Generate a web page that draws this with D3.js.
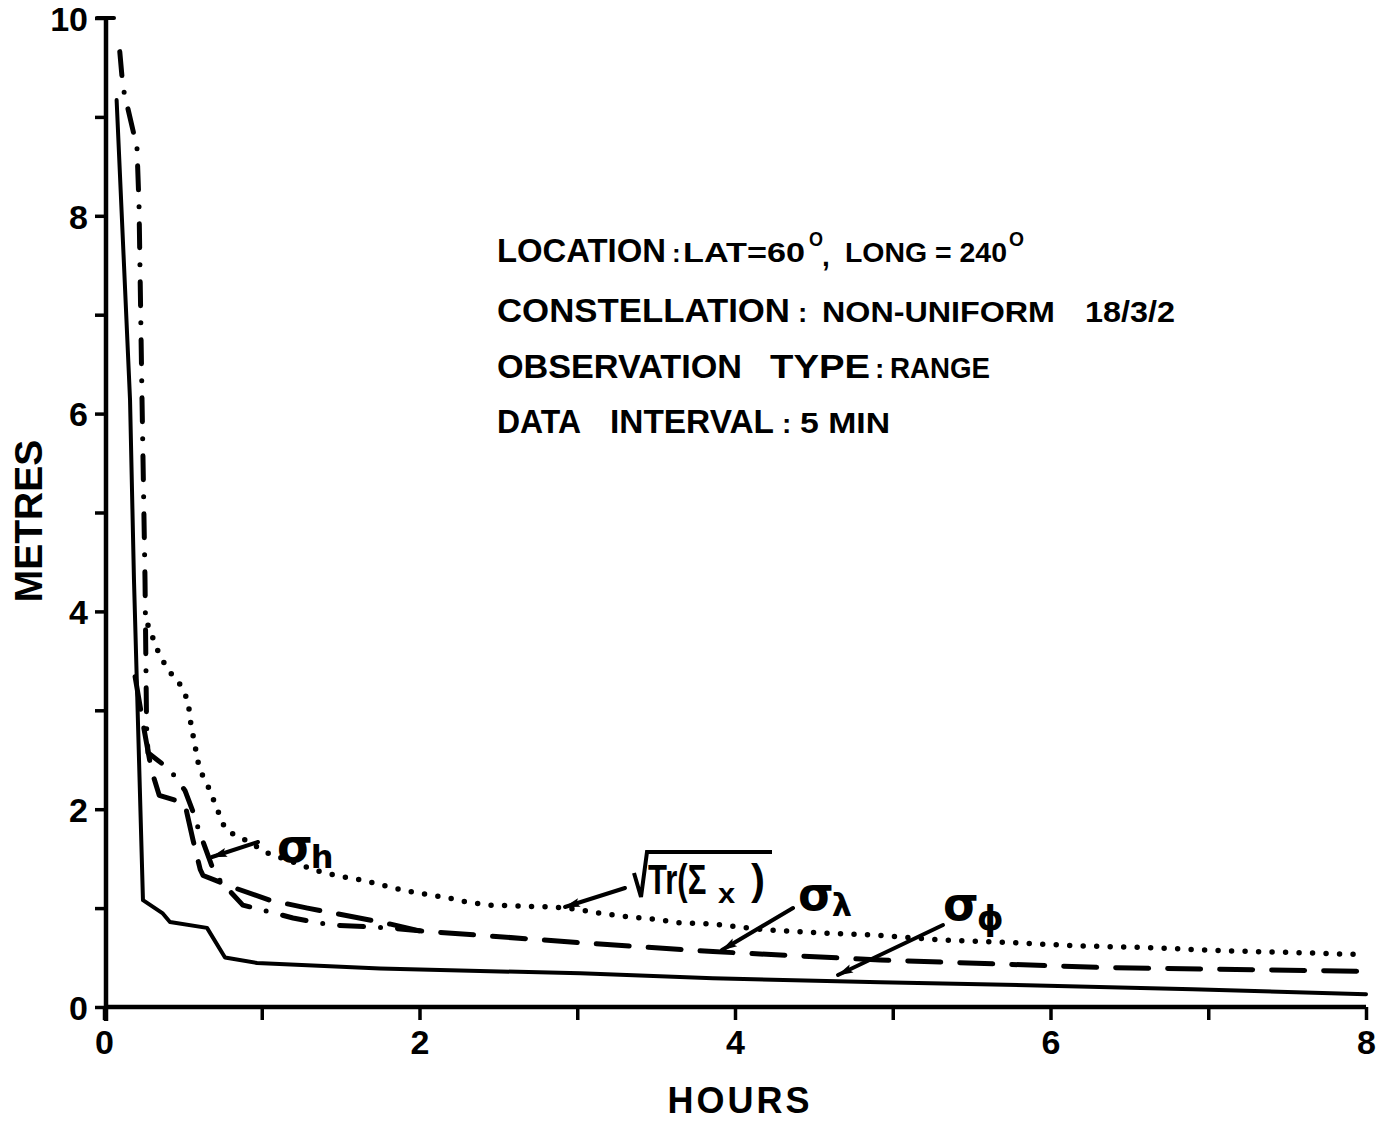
<!DOCTYPE html>
<html>
<head>
<meta charset="utf-8">
<script src="https://cdn.jsdelivr.net/npm/d3@7"></script>
<style>
  html, body { margin: 0; padding: 0; background: #fff; }
  svg { display: block; }
  text { fill: #000; }
</style>
</head>
<body>
<svg id="chart" width="1378" height="1122"></svg>
<script>
// Position error growth over an 8-hour observation span (metres vs hours)

// sigma-phi (solid)
const phiHours  = [0.08, 0.165, 0.19, 0.247, 0.37, 0.418, 0.653, 0.767, 0.97, 1.75, 3.02, 3.86, 4.92, 5.85, 6.9, 8.0];
const phiMetres = [9.17, 6.14, 4.32, 1.08, 0.95, 0.86, 0.80, 0.50, 0.445, 0.39, 0.34, 0.29, 0.25, 0.22, 0.18, 0.13];

// sigma-h (dash-dot)
const hHours  = [0.10, 0.12, 0.209, 0.222, 0.241, 0.26, 0.27, 0.279, 0.418, 0.48, 0.513, 0.577, 0.596, 0.685, 0.71, 0.735, 0.88, 0.957, 1.198, 1.43, 1.81, 2.0];
const hMetres = [9.66, 9.30, 8.69, 8.11, 6.14, 4.32, 2.83, 2.57, 2.40, 2.26, 2.19, 1.92, 1.81, 1.42, 1.37, 1.28, 1.03, 1.00, 0.90, 0.83, 0.80, 0.77];

// sigma-lambda (long dashes)
const lamHours  = [0.197, 0.247, 0.30, 0.35, 0.513, 0.526, 0.564, 0.61, 0.628, 0.818, 1.05, 1.29, 1.81, 2.0, 3.02, 3.86, 4.92, 6.31, 8.0];
const lamMetres = [3.34, 2.87, 2.40, 2.14, 2.06, 1.96, 1.69, 1.39, 1.33, 1.21, 1.08, 1.00, 0.84, 0.77, 0.65, 0.56, 0.475, 0.40, 0.36];

// sqrt(Tr(Sigma_x)) (dotted)
const trHours  = [0.279, 0.336, 0.40, 0.475, 0.532, 0.55, 0.577, 0.602, 0.628, 0.666, 0.723, 0.748, 0.78, 0.843, 0.906, 1.033, 1.223, 1.357, 1.5, 1.65, 1.77, 1.90, 2.0, 2.19, 2.30, 2.45, 2.64, 2.86, 2.99, 3.14, 3.33, 3.48, 3.65, 3.86, 4.03, 4.19, 4.41, 4.67, 4.86, 5.28, 5.76, 6.14, 6.63, 7.07, 7.56, 7.98];
const trMetres = [3.86, 3.62, 3.42, 3.28, 3.10, 2.87, 2.64, 2.43, 2.33, 2.21, 1.98, 1.87, 1.78, 1.73, 1.68, 1.56, 1.45, 1.375, 1.32, 1.28, 1.23, 1.18, 1.15, 1.10, 1.06, 1.03, 1.02, 1.01, 0.99, 0.95, 0.91, 0.89, 0.85, 0.84, 0.81, 0.78, 0.76, 0.74, 0.73, 0.68, 0.65, 0.62, 0.60, 0.57, 0.55, 0.53];

const xTicks = [0, 1, 2, 3, 4, 5, 6, 7, 8];
const xTickLabels = ["0", "", "2", "", "4", "", "6", "", "8"];
const yTicks = [0, 1, 2, 3, 4, 5, 6, 7, 8, 9, 10];
const yTickLabels = ["0", "", "2", "", "4", "", "6", "", "8", "", "10"];

const svg = d3.select("#chart");
const x = d3.scaleLinear().domain([0, 8]).range([104, 1366]);
const y = d3.scaleLinear().domain([0, 10]).range([1007, 18]);

const FONT = "'Liberation Sans', Arial, sans-serif";

// ---- axes ----
const yAxis = d3.axisLeft(y)
  .tickValues(yTicks)
  .tickSize(11)
  .tickSizeOuter(0)
  .tickPadding(7)
  .tickFormat((d, i) => yTickLabels[i]);
const gy = svg.append("g").attr("transform", `translate(${x(0) + 2},0)`).call(yAxis);
gy.select(".domain").remove();
gy.selectAll(".tick line").attr("stroke", "#000").attr("stroke-width", 3.5);
gy.selectAll(".tick text")
  .attr("font-family", FONT).attr("font-weight", "bold").attr("font-size", 34)
  .attr("fill", "#000").attr("dy", "0.36em");

const xAxis = d3.axisBottom(x)
  .tickValues(xTicks)
  .tickSize(13)
  .tickSizeOuter(0)
  .tickPadding(10)
  .tickFormat((d, i) => xTickLabels[i]);
const gx = svg.append("g").attr("transform", `translate(0,${y(0)})`).call(xAxis);
gx.select(".domain").remove();
gx.selectAll(".tick line").attr("stroke", "#000").attr("stroke-width", 3.5);
gx.selectAll(".tick text")
  .attr("font-family", FONT).attr("font-weight", "bold").attr("font-size", 34)
  .attr("fill", "#000");

// axis lines
svg.append("line")
  .attr("x1", x(0) + 2).attr("x2", x(0) + 2)
  .attr("y1", y(10)).attr("y2", y(0) + 14)
  .attr("stroke", "#000").attr("stroke-width", 4.5);
svg.append("line")
  .attr("x1", x(0) + 2 - 9).attr("x2", x(0) + 2 + 8)
  .attr("y1", y(10)).attr("y2", y(10))
  .attr("stroke", "#000").attr("stroke-width", 4).attr("stroke-linecap", "round");
svg.append("line")
  .attr("x1", x(0)).attr("x2", x(8))
  .attr("y1", y(0)).attr("y2", y(0))
  .attr("stroke", "#000").attr("stroke-width", 4.5);

// axis titles
svg.append("text")
  .attr("x", 740).attr("y", 1113)
  .attr("text-anchor", "middle")
  .attr("font-family", FONT).attr("font-weight", "bold").attr("font-size", 36)
  .attr("letter-spacing", 3)
  .text("HOURS");
svg.append("text")
  .attr("transform", "translate(42,521) rotate(-90)")
  .attr("text-anchor", "middle")
  .attr("font-family", FONT).attr("font-weight", "bold").attr("font-size", 39)
  .text("METRES");

// ---- series ----
const line = d3.line().x(d => x(d[0])).y(d => y(d[1])).curve(d3.curveLinear);
const zipPts = (xs, ys) => xs.map((v, i) => [v, ys[i]]);

const series = [
  { pts: zipPts(phiHours, phiMetres), dash: null, width: 4, cap: "round" },
  { pts: zipPts(hHours, hMetres), dash: "24,17,0,17", width: 5, cap: "round" },
  { pts: zipPts(lamHours, lamMetres), dash: "33,19", width: 5, cap: "round" },
  { pts: zipPts(trHours, trMetres), dash: "0,13.5", width: 5.5, cap: "round" }
];

svg.append("g").selectAll("path")
  .data(series)
  .join("path")
  .attr("d", d => line(d.pts))
  .attr("fill", "none")
  .attr("stroke", "#000")
  .attr("stroke-width", d => d.width)
  .attr("stroke-linecap", d => d.cap)
  .attr("stroke-linejoin", "round")
  .attr("stroke-dasharray", d => d.dash);

// ---- arrows to curve labels ----
svg.append("defs").append("marker")
  .attr("id", "head")
  .attr("viewBox", "0 -5 16 10")
  .attr("refX", 15).attr("refY", 0)
  .attr("markerUnits", "userSpaceOnUse")
  .attr("markerWidth", 17).attr("markerHeight", 10)
  .attr("orient", "auto")
  .append("path")
  .attr("d", "M0,-4.5L16,0L0,4.5L3,0Z")
  .attr("fill", "#000");

const arrows = [
  [258, 842, 212, 857],
  [625, 888, 565, 907],
  [793, 908, 722, 950],
  [943, 925, 838, 975]
];
svg.append("g").selectAll("line")
  .data(arrows)
  .join("line")
  .attr("x1", d => d[0]).attr("y1", d => d[1])
  .attr("x2", d => d[2]).attr("y2", d => d[3])
  .attr("stroke", "#000").attr("stroke-width", 4)
  .attr("stroke-linecap", "round")
  .attr("marker-end", "url(#head)");

// ---- curve labels ----
const GREEK = "'DejaVu Sans', sans-serif";
function sigmaLabel(px, py, sub, subDx, subDy, subSize) {
  const t = svg.append("text")
    .attr("x", px).attr("y", py)
    .attr("font-family", GREEK).attr("font-weight", "bold").attr("font-size", 46);
  t.append("tspan").text("σ");
  t.append("tspan").attr("dx", subDx).attr("dy", subDy)
    .attr("font-size", subSize).text(sub);
}
sigmaLabel(277, 862, "h", -2, 6, 32);
sigmaLabel(798, 910, "λ", -2, 6, 32);
sigmaLabel(943, 920, "ϕ", -2, 10, 34);

// sqrt(Tr(Sigma_x)): radical sign drawn as a stroke with its bar
svg.append("path")
  .attr("d", "M634,873 L641,897 L647,852 L772,852")
  .attr("fill", "none").attr("stroke", "#000")
  .attr("stroke-width", 4).attr("stroke-linejoin", "miter");
svg.append("text")
  .attr("transform", "translate(648,894) scale(0.74,1)")
  .attr("font-family", FONT).attr("font-weight", "bold").attr("font-size", 42)
  .text("Tr(Σ");
svg.append("text")
  .attr("transform", "translate(718,903) scale(1.1,1)")
  .attr("font-family", FONT).attr("font-weight", "bold").attr("font-size", 28)
  .text("x");
svg.append("text")
  .attr("x", 751).attr("y", 894)
  .attr("font-family", FONT).attr("font-weight", "bold").attr("font-size", 42)
  .text(")");

// ---- annotation block: [text, x start, width, baseline, font size] ----
const noteText  = ["LOCATION", ":", "LAT=60", "O", ",", "LONG = 240", "O",
                   "CONSTELLATION", ":", "NON-UNIFORM", "18/3/2",
                   "OBSERVATION", "TYPE", ":", "RANGE",
                   "DATA", "INTERVAL", ":", "5 MIN"];
const noteX     = [497, 672, 683, 809, 822, 845, 1009,
                   497, 798, 822, 1085,
                   497, 770, 875, 890,
                   497, 610, 782, 800];
const noteW     = [169, null, 122, 14, null, 162, 15,
                   293, null, 233, 90,
                   245, 100, null, 100,
                   84, 164, null, 90];
const noteY     = [262, 262, 262, 246, 266, 262, 246,
                   322, 322, 322, 322,
                   378, 378, 378, 378,
                   433, 433, 433, 433];
const noteSize  = [33, 26, 28, 20, 28, 28, 20,
                   33, 28, 29, 29,
                   33, 33, 28, 29,
                   33, 33, 28, 29];

const notes = noteText.map((t, i) => ({ t, x: noteX[i], w: noteW[i], y: noteY[i], s: noteSize[i] }));
svg.append("g").selectAll("text")
  .data(notes)
  .join("text")
  .attr("x", d => d.x).attr("y", d => d.y)
  .attr("font-family", FONT).attr("font-weight", "bold")
  .attr("font-size", d => d.s)
  .attr("textLength", d => d.w)
  .attr("lengthAdjust", "spacingAndGlyphs")
  .text(d => d.t);
</script>
</body>
</html>
